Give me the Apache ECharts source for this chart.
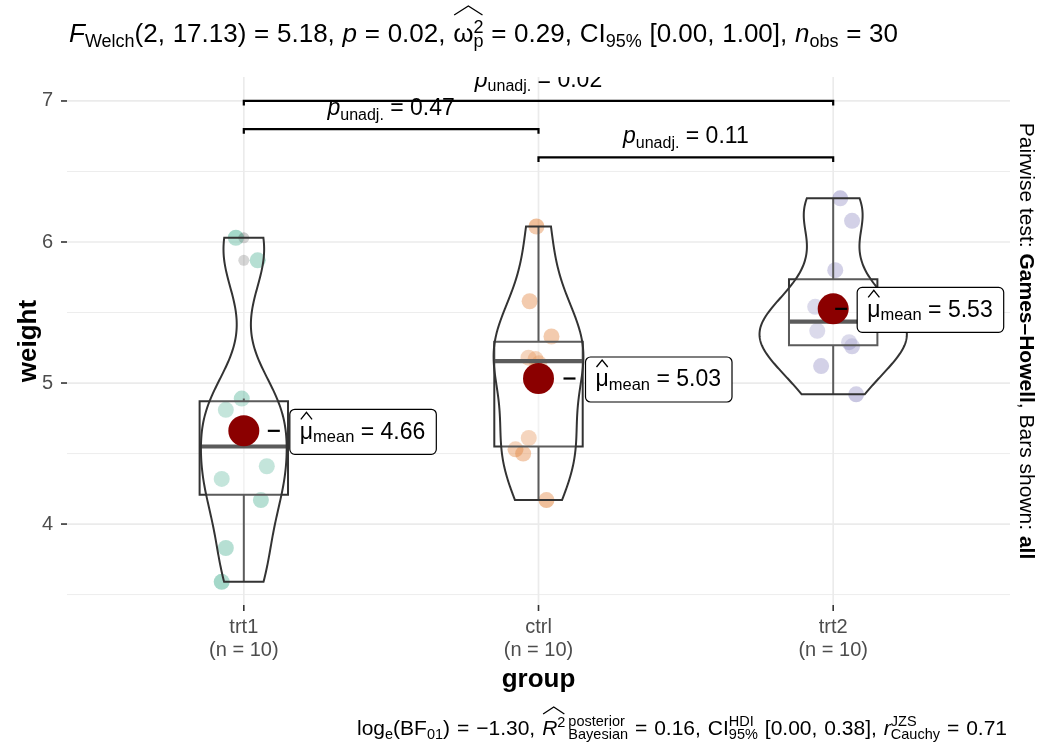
<!DOCTYPE html>
<html><head><meta charset="utf-8">
<script src="https://cdn.jsdelivr.net/npm/echarts@6/dist/echarts.min.js"></script>
<style>html,body{margin:0;padding:0;background:#fff}#c{width:1038px;height:746px}</style>
</head><body><div id="c"></div>
<script>
// ---------------- data ----------------
const categories = ['trt1', 'ctrl', 'trt2'];
const groupCounts = [10, 10, 10];
const trt1Weight = [4.81, 4.17, 4.41, 3.59, 5.87, 3.83, 6.03, 4.89, 4.32, 4.69];
const ctrlWeight = [4.17, 5.58, 5.18, 6.11, 4.50, 4.61, 5.17, 4.53, 5.33, 5.14];
const trt2Weight = [6.31, 5.12, 5.54, 5.50, 5.37, 5.29, 4.92, 6.15, 5.80, 5.26];
// horizontal jitter (category units)
const trt1Jitter = [-0.061, 0.058, 0.078, -0.075, 0.047, -0.061, -0.027, -0.007, -0.075, 0.000];
const ctrlJitter = [0.027, -0.030, -0.034, -0.007, -0.052, -0.033, -0.010, -0.078, 0.044, 0.002];
const trt2Jitter = [0.024, -0.041, -0.061, 0.000, -0.054, 0.054, 0.078, 0.064, 0.007, 0.064];
const yTicks = [4, 5, 6, 7];
const yMinorTicks = [3.5, 4.5, 5.5, 6.5];
const pairFrom = [0, 1, 0];
const pairTo = [1, 2, 2];
const pairP = ['0.47', '0.11', '0.02'];
const pairY = [6.8, 6.6, 7.0];

// ---------------- layout / style ----------------
const FONT = '"Liberation Sans", Arial, Helvetica, sans-serif';
const COLORS = ['#1B9E77', '#D95F02', '#7570B3'];
const groups = [trt1Weight, ctrlWeight, trt2Weight];
const jitters = [trt1Jitter, ctrlJitter, trt2Jitter];
const labelDx = [46, 47, 24];
const labelDy = [1, 1, 1];

// ---------------- stats ----------------
function quantile7(arr, p) {
  const a = [...arr].sort((x, y) => x - y);
  const h = (a.length - 1) * p, lo = Math.floor(h);
  const hiV = lo + 1 < a.length ? a[lo + 1] : a[lo];
  return a[lo] + (h - lo) * (hiV - a[lo]);
}
function sdev(arr) {
  const m = arr.reduce((a, b) => a + b, 0) / arr.length;
  return Math.sqrt(arr.reduce((a, b) => a + (b - m) * (b - m), 0) / (arr.length - 1));
}
function bwNrd0(arr) {
  const hi = sdev(arr);
  const iqr = quantile7(arr, 0.75) - quantile7(arr, 0.25);
  let lo = Math.min(hi, iqr / 1.34);
  if (!(lo > 0)) lo = hi || 1;
  return 0.9 * lo * Math.pow(arr.length, -0.2);
}
function kde(arr, n) {
  const bw = bwNrd0(arr), mn = Math.min(...arr), mx = Math.max(...arr), out = [];
  for (let k = 0; k < n; k++) {
    const y = mn + (mx - mn) * k / (n - 1);
    let d = 0;
    for (const v of arr) { const z = (y - v) / bw; d += Math.exp(-0.5 * z * z); }
    out.push([y, d / (arr.length * bw * Math.sqrt(2 * Math.PI))]);
  }
  return out;
}
function boxStats(arr) {
  const q1 = quantile7(arr, 0.25), med = quantile7(arr, 0.5), q3 = quantile7(arr, 0.75), iqr = q3 - q1;
  const lo = q1 - 1.5 * iqr, hi = q3 + 1.5 * iqr;
  const inside = arr.filter(v => v >= lo && v <= hi);
  return { q1, med, q3, wlo: Math.min(...inside), whi: Math.max(...inside), out: arr.filter(v => v < lo || v > hi) };
}
const dens = groups.map(g => kde(g, 200));
const maxD = Math.max(...dens.map(d => Math.max(...d.map(p => p[1]))));
const stats = groups.map(boxStats);
const meanVals = groups.map(g => g.reduce((a, b) => a + b, 0) / g.length);

// ---------------- math text layout ----------------
const mc = document.createElement('canvas').getContext('2d');
function tw(text, size, it, b) {
  mc.font = (it ? 'italic' : 'normal') + ' ' + (b ? 'bold' : 'normal') + ' ' + size + 'px ' + FONT;
  return mc.measureText(text).width;
}
function T(text, s, o) { return Object.assign({ t: text, s: s }, o || {}); }
function SP(w, fixed) { return { sp: w, fixed: !!fixed }; }
const HS = { hat: 'start' };
function HE(y0, y1) { return { hat: 'end', y0: y0, y1: y1 }; }
function tokW(tk) { return tw(tk.t, tk.s, tk.it, tk.b); }
function exprMeasure(tokens) {
  let w = 0, n = 0;
  for (const tk of tokens) {
    if (tk.hat) continue;
    if (tk.stack) { w += Math.max(...tk.stack.map(tokW)); continue; }
    if (tk.sp != null) { w += tk.sp; if (!tk.fixed) n++; continue; }
    w += tokW(tk);
  }
  return { w, n };
}
function textEl(tk, x, base, color) {
  return { type: 'text', x: x, y: base + (tk.dy || 0) - 0.3465 * tk.s, silent: true, z: 50,
    style: { text: tk.t, fontSize: tk.s, fontFamily: FONT, fontStyle: tk.it ? 'italic' : 'normal',
      fontWeight: tk.b ? 'bold' : 'normal', fill: color, align: 'left', verticalAlign: 'middle' } };
}
function buildExpr(tokens, x0, base, color, extra) {
  const els = []; let x = x0, hx = 0;
  for (const tk of tokens) {
    if (tk.hat === 'start') { hx = x; continue; }
    if (tk.hat === 'end') {
      els.push({ type: 'polyline', silent: true, z: 50, shape: { points: [[hx + 1, base + tk.y0], [(hx + x) / 2, base + tk.y1], [x - 1, base + tk.y0]] },
        style: { stroke: color, lineWidth: 1.3, fill: null } });
      continue;
    }
    if (tk.stack) {
      let w = 0;
      for (const st of tk.stack) { els.push(textEl(st, x, base, color)); w = Math.max(w, tokW(st)); }
      x += w; continue;
    }
    if (tk.sp != null) { x += tk.sp + (tk.fixed ? 0 : (extra || 0)); continue; }
    els.push(textEl(tk, x, base, color)); x += tokW(tk);
  }
  return els;
}

// title
const TS = 26, ts = 18, tws = tw(' ', TS);
const titleTokens = [
  T('F', TS, { it: 1 }), T('Welch', ts, { dy: 4.5 }), T('(2,', TS), SP(tws), T('17.13)', TS), SP(tws), T('=', TS), SP(tws), T('5.18,', TS), SP(tws),
  T('p', TS, { it: 1 }), SP(tws), T('=', TS), SP(tws), T('0.02,', TS), SP(tws),
  HS, T('\u03C9', TS), { stack: [T('2', ts, { dy: -10 }), T('p', ts, { dy: 4 })] }, HE(-29, -38), SP(tws), T('=', TS), SP(tws), T('0.29,', TS), SP(tws),
  T('CI', TS), T('95%', ts, { dy: 4.5 }), SP(tws), T('[0.00,', TS), SP(tws), T('1.00],', TS), SP(tws),
  T('n', TS, { it: 1 }), T('obs', ts, { dy: 4.5 }), SP(tws), T('=', TS), SP(tws), T('30', TS)
];
const titleM = exprMeasure(titleTokens);
const titleExtra = (829 - titleM.w) / titleM.n;
const titleEls = buildExpr(titleTokens, 69, 44, '#000', titleExtra);

// caption
const CS = 21, cs = 14.5, cws = tw(' ', CS);
const capTokens = [
  T('log', CS), T('e', cs, { dy: 4 }), T('(BF', CS), T('01', cs, { dy: 4 }), T(')', CS), SP(cws), T('=', CS), SP(cws), T('\u22121.30,', CS), SP(cws),
  HS, T('R', CS, { it: 1 }), T('2', cs, { dy: -8 }), HE(-22, -29), SP(3, true), { stack: [T('posterior', cs, { dy: -9 }), T('Bayesian', cs, { dy: 4 })] }, SP(cws), T('=', CS), SP(cws), T('0.16,', CS), SP(cws),
  T('CI', CS), { stack: [T('HDI', cs, { dy: -9 }), T('95%', cs, { dy: 4 })] }, SP(cws), T('[0.00,', CS), SP(cws), T('0.38],', CS), SP(cws),
  T('r', CS, { it: 1 }), { stack: [T('JZS', cs, { dy: -9 }), T('Cauchy', cs, { dy: 4 })] }, SP(cws), T('=', CS), SP(cws), T('0.71', CS)
];
const capM = exprMeasure(capTokens);
const capExtra = (650 - capM.w) / capM.n;
const capEls = buildExpr(capTokens, 1007 - 650, 736, '#000', capExtra);

// ---------------- series ----------------
const gridData = yTicks.map(v => [0, v]).concat(yMinorTicks.map(v => [1, v])).concat(categories.map((c, i) => [2, i]));
const pointData = [];
groups.forEach((g, gi) => g.forEach((v, k) => pointData.push([gi, jitters[gi][k], v])));

const PS = 23, pss = 16;
function pTokens(p) {
  const w = tw(' ', PS);
  return [T('p', PS, { it: 1 }), T('unadj.', pss, { dy: 4 }), SP(w), T('=', PS), SP(w), T(p, PS)];
}
const MS = 23, mss = 16.5;
function meanTokens(m) {
  const w = tw(' ', MS);
  return [HS, T('\u03BC', MS), HE(-21, -28), T('mean', mss, { dy: 3 }), SP(w), T('=', MS), SP(w), T(m.toFixed(2), MS)];
}

const option = {
  animation: false,
  backgroundColor: '#ffffff',
  grid: { left: 67, right: 28, top: 77, bottom: 141, containLabel: false, outerBoundsMode: 'none' },
  xAxis: {
    type: 'value', min: -0.6, max: 2.6,
    axisLine: { show: false }, splitLine: { show: false }, axisTick: { show: false },
    axisLabel: { customValues: [0, 1, 2], formatter: v => { const i = Math.round(v); return categories[i] + '\n(n = ' + groupCounts[i] + ')'; },
      color: '#4D4D4D', fontSize: 20, lineHeight: 23, margin: 11, fontFamily: FONT },
    name: 'group', nameLocation: 'middle', nameGap: 62,
    nameTextStyle: { fontWeight: 'bold', fontSize: 26, color: '#000', fontFamily: FONT }
  },
  yAxis: {
    type: 'value', min: 3.426, max: 7.17,
    axisLine: { show: false }, splitLine: { show: false }, axisTick: { show: false },
    axisLabel: { customValues: yTicks, color: '#4D4D4D', fontSize: 20, margin: 14, fontFamily: FONT }
  },
  graphic: titleEls.concat(capEls).concat([{
    type: 'text', x: 1026, y: 341, rotation: -Math.PI / 2, silent: true,
    style: { text: '{n|Pairwise test: }{b|Games\u2013Howell}{n|, Bars shown: }{b|all}', align: 'center', verticalAlign: 'middle',
      rich: { n: { fontSize: 21, fontFamily: FONT, fill: '#000' }, b: { fontSize: 21, fontFamily: FONT, fontWeight: 'bold', fill: '#000' } } }
  }, {
    type: 'text', x: 29, y: 341, rotation: Math.PI / 2, silent: true,
    style: { text: 'weight', fontSize: 26, fontWeight: 'bold', fontFamily: FONT, fill: '#000', align: 'center', verticalAlign: 'middle' }
  }]),
  series: [
    { // grid lines and axis ticks
      type: 'custom', coordinateSystem: 'cartesian2d', silent: true, data: gridData,
      renderItem(params, api) {
        const cs = params.coordSys, kind = api.value(0), v = api.value(1);
        if (kind < 2) {
          const y = api.coord([0, v])[1];
          const ch = [{ type: 'line', shape: { x1: cs.x, y1: y, x2: cs.x + cs.width, y2: y }, style: { stroke: '#EBEBEB', lineWidth: kind === 0 ? 1.7 : 0.9 } }];
          if (kind === 0) ch.push({ type: 'line', shape: { x1: cs.x - 6, y1: y, x2: cs.x, y2: y }, style: { stroke: '#333333', lineWidth: 1.6 } });
          return { type: 'group', children: ch };
        }
        const x = api.coord([v, 0])[0], yb = cs.y + cs.height;
        return { type: 'group', children: [
          { type: 'line', shape: { x1: x, y1: cs.y, x2: x, y2: yb }, style: { stroke: '#EBEBEB', lineWidth: 1.7 } },
          { type: 'line', shape: { x1: x, y1: yb, x2: x, y2: yb + 6 }, style: { stroke: '#333333', lineWidth: 1.6 } }
        ] };
      }
    },
    { // jittered points
      type: 'custom', coordinateSystem: 'cartesian2d', silent: true, data: pointData,
      renderItem(params, api) {
        const gi = api.value(0), p = api.coord([gi + api.value(1), api.value(2)]);
        return { type: 'circle', shape: { cx: p[0], cy: p[1], r: 8 }, style: { fill: COLORS[gi], opacity: 0.4 } };
      }
    },
    { // boxplots
      type: 'custom', coordinateSystem: 'cartesian2d', silent: true, data: categories.map((c, i) => [i]),
      renderItem(params, api) {
        const i = api.value(0), s = stats[i], hw = 0.15;
        const a = api.coord([i - hw, s.q3]), b = api.coord([i + hw, s.q1]);
        const m1 = api.coord([i - hw, s.med]), m2 = api.coord([i + hw, s.med]);
        const wt = api.coord([i, s.whi]), wb = api.coord([i, s.wlo]);
        const ch = [
          { type: 'line', shape: { x1: wt[0], y1: wt[1], x2: wt[0], y2: a[1] }, style: { stroke: '#333333', lineWidth: 2 } },
          { type: 'line', shape: { x1: wb[0], y1: b[1], x2: wb[0], y2: wb[1] }, style: { stroke: '#333333', lineWidth: 2 } },
          { type: 'rect', shape: { x: a[0], y: a[1], width: b[0] - a[0], height: b[1] - a[1] }, style: { fill: 'rgba(255,255,255,0.2)', stroke: '#333333', lineWidth: 2 } },
          { type: 'line', shape: { x1: m1[0], y1: m1[1], x2: m2[0], y2: m2[1] }, style: { stroke: '#333333', lineWidth: 4.2 } }
        ];
        s.out.forEach(v => { const p = api.coord([i, v]); ch.push({ type: 'circle', shape: { cx: p[0], cy: p[1], r: 5.5 }, style: { fill: 'rgba(0,0,0,0.2)' } }); });
        return { type: 'group', children: ch };
      }
    },
    { // violins
      type: 'custom', coordinateSystem: 'cartesian2d', silent: true, data: categories.map((c, i) => [i]),
      renderItem(params, api) {
        const i = api.value(0), d = dens[i], pts = [];
        for (const [y, v] of d) pts.push(api.coord([i - 0.25 * v / maxD, y]));
        for (let k = d.length - 1; k >= 0; k--) pts.push(api.coord([i + 0.25 * d[k][1] / maxD, d[k][0]]));
        return { type: 'polygon', shape: { points: pts }, style: { fill: 'rgba(255,255,255,0.2)', stroke: '#333333', lineWidth: 2 } };
      }
    },
    { // mean points
      type: 'custom', coordinateSystem: 'cartesian2d', silent: true, data: meanVals.map((m, i) => [i, m]),
      renderItem(params, api) {
        const p = api.coord([api.value(0), api.value(1)]);
        return { type: 'circle', shape: { cx: p[0], cy: p[1], r: 15.5 }, style: { fill: '#8B0000' } };
      }
    },
    { // mean labels
      type: 'custom', coordinateSystem: 'cartesian2d', silent: true, data: meanVals.map((m, i) => [i, m]),
      renderItem(params, api) {
        const i = api.value(0), m = api.value(1), p = api.coord([i, m]);
        const toks = meanTokens(m), w = exprMeasure(toks).w;
        const bx = p[0] + labelDx[i], by = p[1] + labelDy[i] - 22.5, bw = w + 21, bh = 45;
        const ch = [
          { type: 'line', shape: { x1: bx - 22, y1: p[1], x2: bx - 10, y2: p[1] }, style: { stroke: '#000', lineWidth: 2.2 } },
          { type: 'rect', shape: { x: bx, y: by, width: bw, height: bh, r: 5 }, style: { fill: '#fff', stroke: '#000', lineWidth: 1.2 } }
        ].concat(buildExpr(toks, bx + 10, by + 31, '#000', 0));
        return { type: 'group', children: ch };
      }
    },
    { // pairwise bars
      type: 'custom', coordinateSystem: 'cartesian2d', silent: true, clip: true, data: pairY.map((y, k) => [k, y]),
      renderItem(params, api) {
        const k = api.value(0), y = api.value(1);
        const a = api.coord([pairFrom[k], y]), b = api.coord([pairTo[k], y]);
        const toks = pTokens(pairP[k]), w = exprMeasure(toks).w;
        const ch = [{ type: 'polyline', shape: { points: [[a[0], a[1] + 4.5], [a[0], a[1]], [b[0], b[1]], [b[0], b[1] + 4.5]] }, style: { stroke: '#000', lineWidth: 2.2, fill: null } }]
          .concat(buildExpr(toks, (a[0] + b[0]) / 2 - w / 2, a[1] - 12.5, '#000', 0));
        return { type: 'group', children: ch };
      }
    }
  ]
};
const chart = echarts.init(document.getElementById('c'), null, { renderer: 'canvas' });
chart.setOption(option);
</script>
</body></html>
